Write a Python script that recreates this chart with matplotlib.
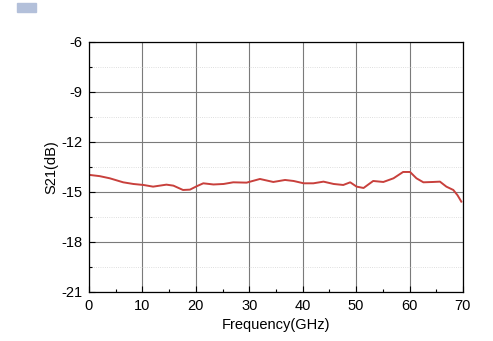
import matplotlib
matplotlib.use("Agg")
import matplotlib.pyplot as plt
from matplotlib.patches import Rectangle
from matplotlib.ticker import MultipleLocator

plt.rcParams['font.family'] = ['Liberation Sans', 'DejaVu Sans']
plt.rcParams['axes.unicode_minus'] = False

# S21
freq = [0.2, 2.0, 3.9, 6.4, 8.3, 10.2, 12.0, 14.5, 15.8, 17.6, 18.9, 20.2, 21.4,
        23.3, 25.2, 27.0, 29.5, 32.0, 34.5, 36.7, 38.3, 40.2, 42.0, 43.9, 45.8,
        47.6, 48.9, 50.1, 51.4, 53.2, 55.1, 57.0, 58.8, 60.1, 61.3, 62.6, 64.4,
        65.7, 66.9, 68.2, 69.0, 69.7]
s21 = [-13.98, -14.05, -14.18, -14.42, -14.52, -14.58, -14.68, -14.56, -14.62,
       -14.88, -14.86, -14.65, -14.48, -14.55, -14.52, -14.42, -14.44, -14.22,
       -14.40, -14.28, -14.34, -14.48, -14.48, -14.38, -14.52, -14.58, -14.42,
       -14.68, -14.76, -14.34, -14.40, -14.18, -13.80, -13.80, -14.18, -14.42,
       -14.40, -14.38, -14.68, -14.88, -15.20, -15.58]

xticks = [0, 10, 20, 30, 40, 50, 60, 70]
yticks = [-21, -18, -15, -12, -9, -6]

fig = plt.figure(figsize=(4.93, 3.41), dpi=100)
ax = fig.add_axes([0.1805, 0.1437, 0.7585, 0.7333])

ax.plot(freq, s21, color='#c8403c', lw=1.4)

ax.set_xlim(0, 70)
ax.set_ylim(-21, -6)
ax.set_xticks(xticks)
ax.set_yticks(yticks)
ax.xaxis.set_minor_locator(MultipleLocator(5))
ax.yaxis.set_minor_locator(MultipleLocator(1.5))
ax.tick_params(which='both', direction='in', labelsize=10.5, colors='black')
ax.tick_params(which='major', length=4, width=0.8)
ax.tick_params(which='minor', length=2, width=0.8)
ax.tick_params(axis='x', which='major', pad=5)
ax.tick_params(axis='y', which='major', pad=5)
ax.grid(which='major', color='#7a7a7a', lw=0.8)
ax.grid(which='minor', axis='y', color='#d4d4d4', lw=0.6, ls=':')
for s in ax.spines.values():
    s.set_linewidth(0.9)

ax.set_xlabel('Frequency(GHz)', fontsize=10.5, labelpad=4)
ax.set_ylabel('S21(dB)', fontsize=10.5, labelpad=2)

fig.patches.append(Rectangle((0.0345, 0.965), 0.0385, 0.026, transform=fig.transFigure,
                             color='#b3c0da', zorder=5))

fig.savefig('out.png', dpi=100)
